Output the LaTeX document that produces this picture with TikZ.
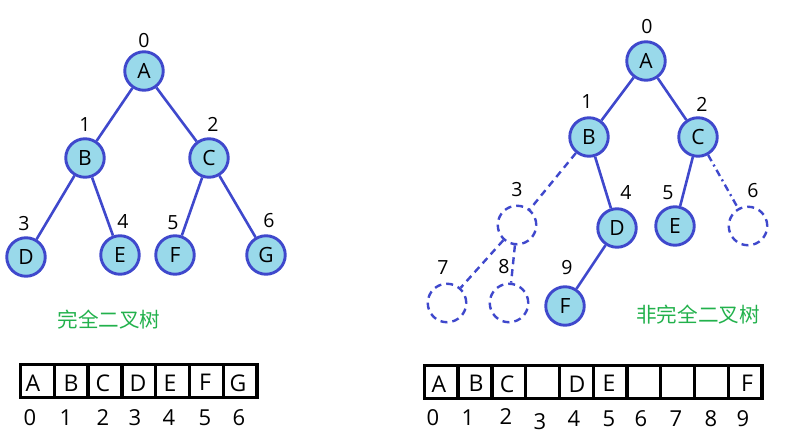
\documentclass[tikz,border=0pt]{standalone}
\usepackage{fontspec}
\setmainfont{Open Sans}
\newfontfamily\cjk{Noto Sans CJK SC}
\definecolor{nodefill}{HTML}{99D9EA}
\definecolor{nodeline}{HTML}{3F48CC}
\definecolor{capgreen}{HTML}{22B14C}
\begin{document}
\begin{tikzpicture}[x=1pt,y=-1pt,
  tnode/.style={circle,draw=nodeline,fill=nodefill,line width=2.9pt,minimum size=38.5pt,inner sep=0pt,font=\fontsize{21}{21}\selectfont},
  ghost/.style={circle,draw=nodeline,line width=2.4pt,minimum size=38.5pt,inner sep=0pt,dash pattern=on 7pt off 5pt},
  edge/.style={draw=nodeline,line width=2.6pt},
  dedge/.style={draw=nodeline,line width=2.4pt,dash pattern=on 7pt off 5pt},
  ddedge/.style={draw=nodeline,line width=2.4pt,dash pattern=on 7pt off 4pt on 2pt off 4pt},
  idx/.style={inner sep=0pt,font=\fontsize{19.5}{19.5}\selectfont},
  cell/.style={draw=black,line width=3.4pt,minimum width=33.8pt,minimum height=32.6pt,inner sep=0pt,anchor=west},
  ctext/.style={inner sep=0pt,font=\fontsize{23}{23}\selectfont},
  aidx/.style={inner sep=0pt,font=\fontsize{22}{22}\selectfont},
  captext/.style={inner sep=0pt,text=capgreen,font=\cjk\fontsize{20.6}{20.6}\selectfont}]
\useasboundingbox (0,0) rectangle (802,446);

% ---------- left tree ----------
\node[tnode] (lA) at (144,71) {A};
\node[tnode] (lB) at (85,158) {B};
\node[tnode] (lC) at (209,158) {C};
\node[tnode] (lD) at (26,257) {D};
\node[tnode] (lE) at (120,255) {E};
\node[tnode] (lF) at (175,255) {F};
\node[tnode] (lG) at (266,255) {G};
\draw[edge] (lA) -- (lB);
\draw[edge] (lA) -- (lC);
\draw[edge] (lB) -- (lD);
\draw[edge] (lB) -- (lE);
\draw[edge] (lC) -- (lF);
\draw[edge] (lC) -- (lG);
\node[idx] (li0) at (144,41) {0};
\node[idx] (li1) at (85,125) {1};
\node[idx] (li2) at (213,124) {2};
\node[idx] (li3) at (24,224) {3};
\node[idx] (li4) at (123,222) {4};
\node[idx] (li5) at (173,223) {5};
\node[idx] (li6) at (269,221) {6};
\node[captext] (lcap) at (109,320) {完全二叉树};

% ---------- right tree ----------
\node[tnode] (rA) at (646,61) {A};
\node[tnode] (rB) at (589,137) {B};
\node[tnode] (rC) at (698,137) {C};
\node[ghost] (r3) at (517,225) {};
\node[tnode] (rD) at (617,228) {D};
\node[tnode] (rE) at (675,226) {E};
\node[ghost] (r6) at (748,226) {};
\node[ghost] (r7) at (447,303) {};
\node[ghost] (r8) at (509,303) {};
\node[tnode] (rF) at (565,306) {F};
\draw[edge] (rA) -- (rB);
\draw[edge] (rA) -- (rC);
\draw[edge] (rB) -- (rD);
\draw[edge] (rC) -- (rE);
\draw[edge] (rD) -- (rF);
\draw[dedge] (rB) -- (r3);
\draw[dedge] (r3) -- (r7);
\draw[dedge] (r3) -- (r8);
\draw[ddedge] (rC) -- (r6);
\node[idx] (ri0) at (647,27) {0};
\node[idx] (ri1) at (587,102) {1};
\node[idx] (ri2) at (702,104) {2};
\node[idx] (ri3) at (517,190) {3};
\node[idx] (ri4) at (626,193) {4};
\node[idx] (ri5) at (668,193) {5};
\node[idx] (ri6) at (753,191) {6};
\node[idx] (ri7) at (443,268) {7};
\node[idx] (ri8) at (504,267) {8};
\node[idx] (ri9) at (567,268) {9};
\node[captext] (rcap) at (698,315) {非完全二叉树};

% ---------- left array ----------
\foreach \i in {0,...,6} {
  \node[cell] (lc\i) at ({18.7+33.8*\i},381) {};
}
\node[ctext] (lt0) at (33,383) {A};
\node[ctext] (lt1) at (71,383) {B};
\node[ctext] (lt2) at (103,383) {C};
\node[ctext] (lt3) at (138,383) {D};
\node[ctext] (lt4) at (170,383) {E};
\node[ctext] (lt5) at (205,382) {F};
\node[ctext] (lt6) at (238,383) {G};
\foreach \i/\x in {0/30,1/66,2/103,3/135,4/169,5/205,6/239} {
  \node[aidx] (la\i) at (\x,418) {\i};
}

% ---------- right array ----------
\foreach \i in {0,...,9} {
  \node[cell] (rc\i) at ({422.7+33.76*\i},382) {};
}
\node[ctext] (rt0) at (439,384) {A};
\node[ctext] (rt1) at (476,383) {B};
\node[ctext] (rt2) at (507,384) {C};
\node[ctext] (rt4) at (577,384) {D};
\node[ctext] (rt5) at (609,383) {E};
\node[ctext] (rt9) at (747,383) {F};
\foreach \i/\x/\y in {0/433/418,1/468/418,2/506/417,3/540/422,4/574/419,5/609/419,6/641/419,7/676/419,8/711/419,9/743/419} {
  \node[aidx] (ra\i) at (\x,\y) {\i};
}
\end{tikzpicture}
\end{document}
